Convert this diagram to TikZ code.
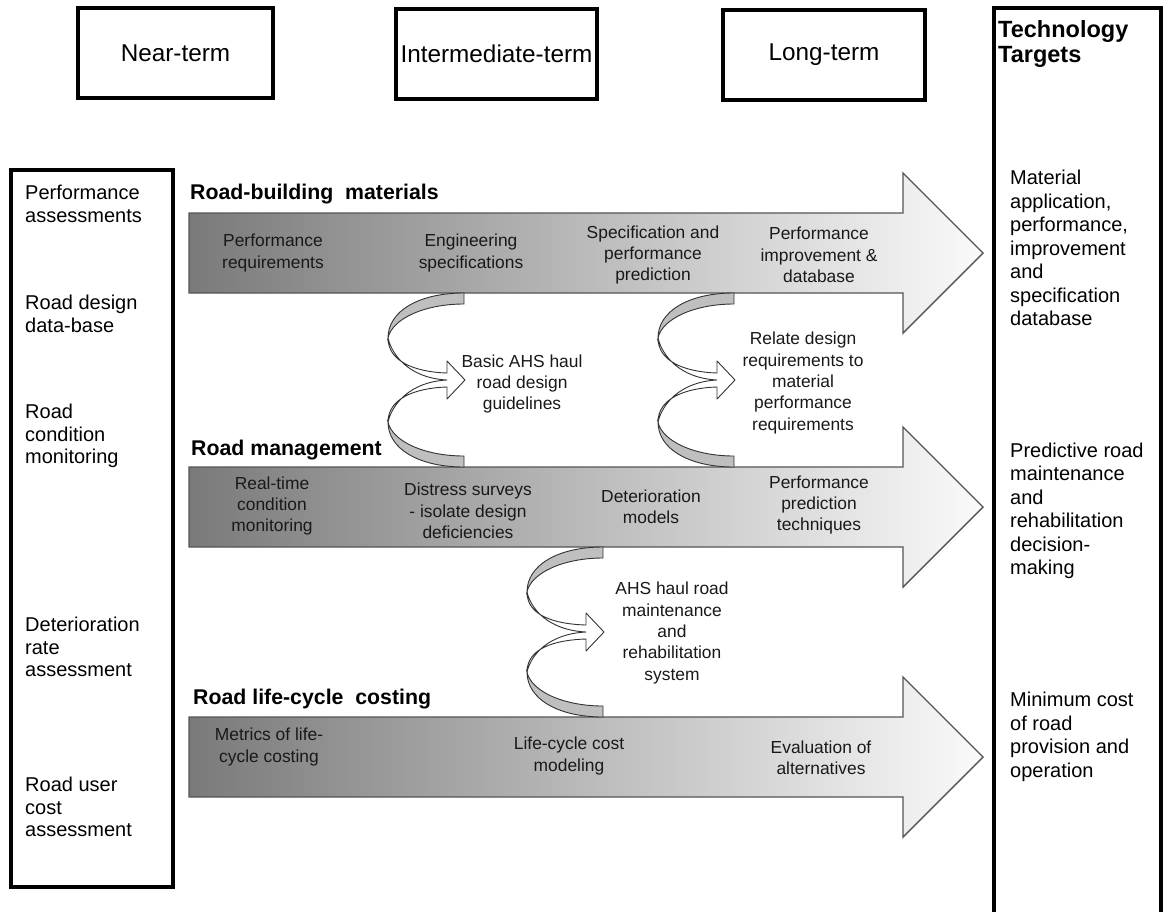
\documentclass[tikz,border=0pt]{standalone}
\usepackage{fontspec}
\setmainfont{Liberation Sans}
\definecolor{gdark}{RGB}{122,122,122}
\definecolor{glight}{RGB}{250,250,250}
\definecolor{edge}{RGB}{85,85,85}

% broad shaded arrow across the roadmap, #1 = centre line (y)
\newcommand{\roadarrow}[1]{%
  \shadedraw[left color=gdark, right color=glight, draw=edge, line width=1.4pt]
    (189,#1-40) -- (903,#1-40) -- (903,#1-80) -- (983,#1) -- (903,#1+80)
    -- (903,#1+40) -- (189,#1+40) -- cycle;}

% twisted double ribbon arrow: #1 right x, #2 top y, #3 bottom y
\newcommand{\twistpair}[3]{%
  \pgfmathsetmacro\cpR{#1}%
  \pgfmathsetmacro\cpT{#2}%
  \pgfmathsetmacro\cpB{#3}%
  \pgfmathsetmacro\cpM{(#2+#3)/2}%
  \pgfmathsetmacro\cpL{#1-76}%
  \filldraw[backface] (\cpR,\cpT) .. controls (\cpR-45,\cpT) and (\cpL,\cpT+18) .. (\cpL,\cpT+45)
    .. controls (\cpL+4,\cpT+26) and (\cpR-40,\cpT+11) .. (\cpR,\cpT+11) -- cycle;
  \filldraw[backface] (\cpR,\cpB) .. controls (\cpR-45,\cpB) and (\cpL,\cpB-18) .. (\cpL,\cpB-45)
    .. controls (\cpL+4,\cpB-26) and (\cpR-40,\cpB-11) .. (\cpR,\cpB-11) -- cycle;
  \filldraw[frontface] (\cpL,\cpT+45) .. controls (\cpL,\cpT+68) and (\cpR-50,\cpM-8) .. (\cpR-17,\cpM-7)
    -- (\cpR-17,\cpM-19) -- (\cpR+1,\cpM) -- (\cpR-17,\cpM+19) -- (\cpR-17,\cpM+7)
    .. controls (\cpR-50,\cpM+8) and (\cpL,\cpB-68) .. (\cpL,\cpB-45)
    .. controls (\cpL+4,\cpB-62) and (\cpR-55,\cpM+2) .. (\cpR-17,\cpM)
    .. controls (\cpR-55,\cpM-2) and (\cpL+4,\cpT+62) .. (\cpL,\cpT+45) -- cycle;}

\begin{document}
\begin{tikzpicture}[x=1pt,y=-1pt,
  hdr/.style={draw=black, line width=4pt, minimum height=90pt, inner sep=0pt,
    font=\fontsize{24.3}{29}\selectfont},
  side/.style={anchor=west, align=left, inner sep=0pt,
    font=\fontsize{20}{22.5}\selectfont},
  target/.style={anchor=west, align=left, inner sep=0pt,
    font=\fontsize{20}{23.5}\selectfont},
  stage/.style={align=center, inner sep=0pt, text=black!90,
    font=\fontsize{17.4}{21.3}\selectfont},
  trackname/.style={anchor=base west, inner sep=0pt,
    font=\bfseries\fontsize{21.3}{24}\selectfont},
  backface/.style={fill=black!25, draw=black!80, line width=0.9pt},
  frontface/.style={fill=white, draw=black!80, line width=0.9pt, line join=round}]
\useasboundingbox (0,0) rectangle (1164,911);
\fill[white] (0,0) rectangle (1164,911);

% time horizon headings
\node[hdr, minimum width=195pt] (near) at (175.5,53) {Near-term};
\node[hdr, minimum width=201pt] (inter) at (496.5,53.5) {Intermediate-term};
\node[hdr, minimum width=202pt] (long) at (824,55) {Long-term};

% technology targets column
\draw[line width=4pt] (994,916) -- (994,8) -- (1161,8) -- (1161,916);
\node[anchor=west, align=left, inner sep=0pt, font=\bfseries\fontsize{23.5}{25.5}\selectfont]
  (tt) at (998,44) {Technology\\Targets};
\node[target] (t1) at (1010,248) {Material\\application,\\performance,\\improvement\\and\\specification\\database};
\node[target] (t2) at (1010,511) {Predictive road\\maintenance\\and\\rehabilitation\\decision-\\making};
\node[target] (t3) at (1010,737) {Minimum cost\\of road\\provision and\\operation};

% enabling activities column
\draw[line width=3.5pt] (11,170) rectangle (173,887);
\node[side] (s1) at (25,204) {Performance\\assessments};
\node[side] (s2) at (25,314) {Road design\\data-base};
\node[side] (s3) at (25,436) {Road\\condition\\monitoring};
\node[side] (s4) at (25,647) {Deterioration\\rate\\assessment};
\node[side] (s5) at (25,807) {Road user\\cost\\assessment};

% research tracks
\roadarrow{253}
\roadarrow{507}
\roadarrow{757}

\node[trackname] (m0) at (190,199) {Road-building\ \ materials};
\node[trackname] (r0) at (191,455) {Road management};
\node[trackname] (c0) at (193,704) {Road life-cycle\ \ costing};

\node[stage] (m1) at (273,253) {Performance\\requirements};
\node[stage] (m2) at (471,253) {Engineering\\specifications};
\node[stage] (m3) at (653,255) {Specification and\\performance\\prediction};
\node[stage] (m4) at (819,255) {Performance\\improvement \&\\database};

\node[stage] (r1) at (272,506) {Real-time\\condition\\monitoring};
\node[stage] (r2) at (468,511) {Distress surveys\\- isolate design\\deficiencies};
\node[stage] (r3) at (651,507) {Deterioration\\models};
\node[stage] (r4) at (819,505) {Performance\\prediction\\techniques};

\node[stage] (c1) at (269,747) {Metrics of life-\\cycle costing};
\node[stage] (c2) at (569,756) {Life-cycle cost\\modeling};
\node[stage] (c3) at (821,758) {Evaluation of\\alternatives};

% links between tracks
\twistpair{464}{293}{467}
\twistpair{734}{293}{467}
\twistpair{603}{547}{717}

\node[stage] (l1) at (522,384) {Basic AHS haul\\road design\\guidelines};
\node[stage] (l2) at (803,383) {Relate design\\requirements to\\material\\performance\\requirements};
\node[stage] (l3) at (672,633) {AHS haul road\\maintenance\\and\\rehabilitation\\system};
\end{tikzpicture}
\end{document}
